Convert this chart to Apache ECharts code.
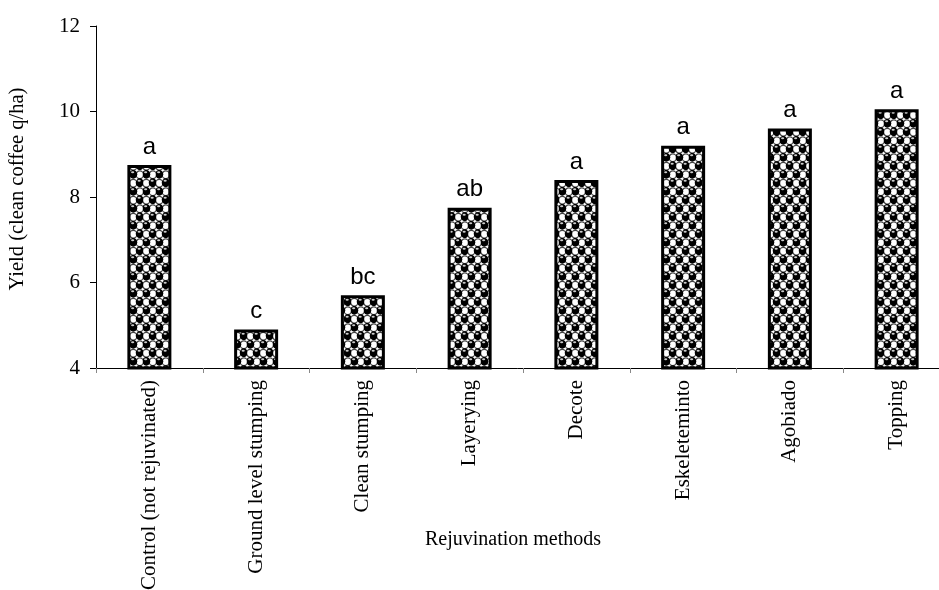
<!DOCTYPE html>
<html>
<head>
<meta charset="utf-8">
<script src="https://cdn.jsdelivr.net/npm/echarts@6/dist/echarts.min.js"></script>
<style>html,body{margin:0;padding:0;background:#fff;}#c{width:939px;height:590px;}</style>
</head>
<body>
<div id="c"></div>
<script>
const categories = ["Control (not rejuvinated)", "Ground level stumping", "Clean stumping", "Layerying", "Decote", "Eskeleteminto", "Agobiado", "Topping"];
const yieldValues = [8.75, 4.9, 5.7, 7.75, 8.4, 9.2, 9.6, 10.05];
const letters = ["a", "c", "bc", "ab", "a", "a", "a", "a"];
const yTicks = [4, 6, 8, 10, 12];

function makeTile() {
  const w = 13, h = 17, c = document.createElement('canvas');
  c.width = w; c.height = h;
  const g = c.getContext('2d');
  g.fillStyle = '#fff'; g.fillRect(0, 0, w, h);
  const cw = w / 2, ch = h / 2;
  const ball = (x, y) => {
    g.fillStyle = '#000';
    g.beginPath(); g.ellipse(x, y, 4.0, 4.4, 0, 0, Math.PI * 2); g.fill();
    g.fillStyle = '#ccc';
    g.beginPath(); g.ellipse(x - 0.6, y - 2.0, 1.6, 0.9, 0, 0, Math.PI * 2); g.fill();
  };
  const ring = (x, y) => {
    g.strokeStyle = '#444'; g.lineWidth = 1.2;
    g.beginPath(); g.ellipse(x, y + 0.5, 3.6, 3.9, 0, 0, Math.PI * 2); g.stroke();
  };
  ring(cw + cw / 2, ch / 2); ring(cw / 2, ch + ch / 2);
  ball(cw / 2, ch / 2); ball(cw + cw / 2, ch + ch / 2);
  return c;
}

const chart = echarts.init(document.getElementById('c'), null, {renderer: 'canvas'});
chart.setOption({
  animation: false,
  grid: {left: 96, top: 26, bottom: 222, right: -11, containLabel: false, outerBoundsMode: 'none'},
  xAxis: {
    type: 'category',
    data: categories,
    axisLine: {lineStyle: {color: '#000', width: 1}},
    axisTick: {show: true, length: 5, lineStyle: {color: '#888'}},
    axisLabel: {rotate: 90, margin: 12, fontFamily: 'Liberation Serif', fontSize: 21, color: '#000'},
    name: 'Rejuvination methods',
    nameLocation: 'middle',
    nameGap: 162,
    nameMoveOverlap: false,
    nameTextStyle: {fontFamily: 'Liberation Serif', fontSize: 20, color: '#000', padding: [0, 20, 0, 0]}
  },
  yAxis: {
    type: 'value',
    min: 4, max: 12, interval: 2,
    splitLine: {show: false},
    axisLine: {show: true, lineStyle: {color: '#000', width: 1}},
    axisTick: {show: true, length: 6, lineStyle: {color: '#000'}},
    axisLabel: {margin: 16, fontFamily: 'Liberation Serif', fontSize: 21, color: '#000',
      formatter: v => yTicks.includes(v) ? String(v) : ''},
    name: 'Yield (clean coffee q/ha)',
    nameLocation: 'middle',
    nameGap: 68,
    nameMoveOverlap: false,
    nameTextStyle: {fontFamily: 'Liberation Serif', fontSize: 20.5, color: '#000', padding: [0, 0, 0, 16]}
  },
  series: [{
    type: 'bar',
    data: yieldValues,
    barWidth: 44,
    itemStyle: {color: {image: makeTile(), repeat: 'repeat'}, borderColor: '#000', borderWidth: 3},
    label: {
      show: true, position: 'top', distance: 6,
      fontFamily: 'Liberation Sans', fontSize: 24, color: '#000',
      formatter: p => letters[p.dataIndex]
    }
  }]
});
</script>
</body>
</html>
